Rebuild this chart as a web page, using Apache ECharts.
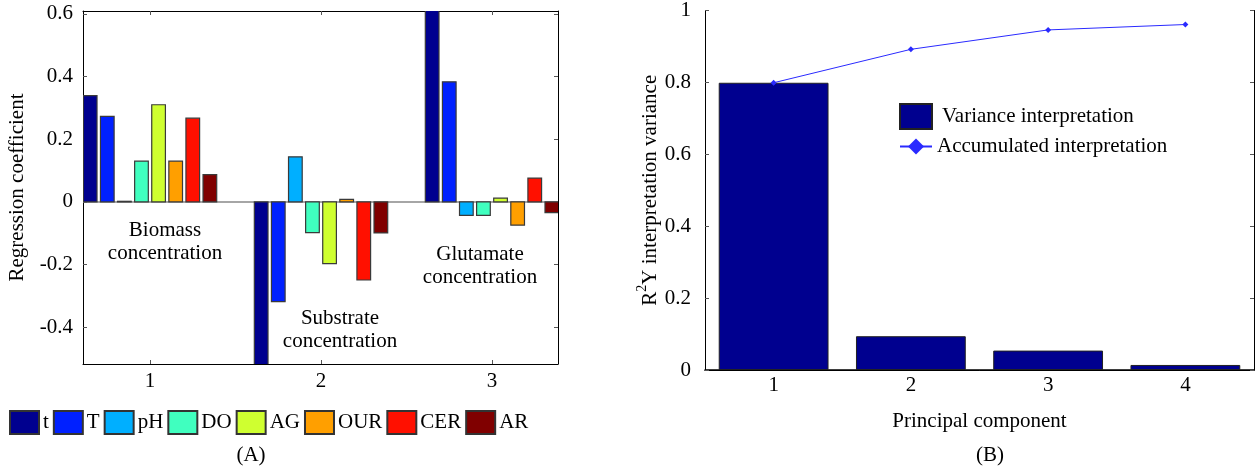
<!DOCTYPE html>
<html>
<head>
<meta charset="utf-8">
<script src="https://cdn.jsdelivr.net/npm/echarts@6/dist/echarts.min.js"></script>
<style>
  html, body { margin: 0; padding: 0; background: #fff; }
  #chart { width: 1259px; height: 470px; }
</style>
</head>
<body>
<div id="chart"></div>
<script>
// (A) regression coefficients, one array per output, 8 input variables each
const variables = ['t', 'T', 'pH', 'DO', 'AG', 'OUR', 'CER', 'AR']
const groups = [1, 2, 3]
const biomass = [0.339, 0.273, 0.002, 0.130, 0.310, 0.130, 0.267, 0.087]
const substrate = [-0.56, -0.318, 0.144, -0.098, -0.197, 0.008, -0.249, -0.099]
const glutamate = [0.65, 0.383, -0.043, -0.043, 0.012, -0.074, 0.076, -0.034]
const coefTicks = [-0.4, -0.2, 0, 0.2, 0.4, 0.6]

// (B) PLS components
const components = ['1', '2', '3', '4']
const variance = [0.799, 0.094, 0.054, 0.014]
const accumulated = [0.799, 0.892, 0.946, 0.961]

const colors = ['#00008f', '#0020ff', '#00afff', '#40ffbf', '#cfff30', '#ff9f00', '#ff1000', '#800000']
const font = 'Liberation Serif, Times New Roman, serif'
const fs = 21

const myChart = echarts.init(document.getElementById('chart'))

const barSeries = variables.map(function (name, i) {
  const vals = [biomass[i], substrate[i], glutamate[i]]
  return {
    name: name,
    type: 'custom',
    xAxisIndex: 0,
    yAxisIndex: 0,
    clip: true,
    itemStyle: { color: colors[i], borderColor: '#333', borderWidth: 1 },
    data: groups.map(function (g, k) {
      return [g + (i - 3.5) * 0.1, vals[k]]
    }),
    renderItem: function (params, api) {
      const x = api.value(0)
      const y = api.value(1)
      const p0 = api.coord([x - 0.04, 0])
      const p1 = api.coord([x + 0.04, y])
      return {
        type: 'rect',
        shape: {
          x: p0[0],
          y: Math.min(p0[1], p1[1]),
          width: p1[0] - p0[0],
          height: Math.abs(p1[1] - p0[1])
        },
        style: { fill: colors[i], stroke: '#3a3a3a', lineWidth: 1.2 }
      }
    },
    markLine: i === 0 ? {
      silent: true,
      symbol: 'none',
      z: 1,
      label: { show: false },
      lineStyle: { color: '#888', width: 1.5, type: 'solid' },
      data: [{ yAxis: 0 }]
    } : undefined
  }
})

const axisText = { color: '#000', fontFamily: font, fontSize: fs }
const tickStyle = { color: '#555' }

const option = {
  animation: false,
  textStyle: { fontFamily: font },
  grid: [
    { left: 83, top: 11, width: 475, height: 353 },
    { left: 705, top: 10, width: 549, height: 360 }
  ],
  xAxis: [
    {
      gridIndex: 0, type: 'value', min: 0.608, max: 3.386,
      splitLine: { show: false },
      axisLine: { onZero: false, lineStyle: { color: '#000', width: 1 } },
      axisTick: { inside: true, length: 4, customValues: groups, lineStyle: tickStyle },
      axisLabel: Object.assign({ customValues: groups, margin: 7 }, axisText)
    },
    {
      gridIndex: 0, type: 'value', position: 'top', min: 0.608, max: 3.386,
      splitLine: { show: false },
      axisLine: { onZero: false, lineStyle: { color: '#000', width: 1 } },
      axisTick: { inside: true, length: 4, customValues: groups, lineStyle: tickStyle },
      axisLabel: { show: false }
    },
    {
      gridIndex: 1, type: 'category', data: components,
      name: 'Principal component', nameLocation: 'middle', nameGap: 41,
      nameTextStyle: axisText,
      axisLine: { lineStyle: { color: '#000', width: 1.5 } },
      axisTick: { inside: true, alignWithLabel: true, length: 4, lineStyle: tickStyle },
      axisLabel: Object.assign({ margin: 5 }, axisText)
    },
    {
      gridIndex: 1, type: 'category', data: components, position: 'top',
      axisLine: { lineStyle: { color: '#000', width: 1 } },
      axisTick: { inside: true, alignWithLabel: true, length: 4, lineStyle: tickStyle },
      axisLabel: { show: false }
    }
  ],
  yAxis: [
    {
      gridIndex: 0, type: 'value', min: -0.517, max: 0.609,
      name: 'Regression coefficient', nameLocation: 'middle', nameGap: 55,
      nameTextStyle: axisText,
      splitLine: { show: false },
      axisLine: { show: true, onZero: false, lineStyle: { color: '#000', width: 1 } },
      axisTick: { show: true, inside: true, length: 4, customValues: coefTicks, lineStyle: tickStyle },
      axisLabel: Object.assign({ customValues: coefTicks, margin: 10 }, axisText)
    },
    {
      gridIndex: 0, type: 'value', position: 'right', min: -0.517, max: 0.609,
      splitLine: { show: false },
      axisLine: { show: true, onZero: false, lineStyle: { color: '#000', width: 1 } },
      axisTick: { show: true, inside: true, length: 4, customValues: coefTicks, lineStyle: tickStyle },
      axisLabel: { show: false }
    },
    {
      gridIndex: 1, type: 'value', min: 0, max: 1, interval: 0.2,
      name: '{t|R}{s|2}{t|Y interpretation variance}', nameLocation: 'middle', nameGap: 44,
      nameTextStyle: {
        rich: {
          t: { color: '#000', fontFamily: font, fontSize: fs, lineHeight: 26, verticalAlign: 'bottom' },
          s: { color: '#000', fontFamily: font, fontSize: 14, lineHeight: 14, verticalAlign: 'top' }
        }
      },
      splitLine: { show: false },
      axisLine: { show: true, lineStyle: { color: '#000', width: 1 } },
      axisTick: { show: true, inside: true, length: 4, lineStyle: tickStyle },
      axisLabel: Object.assign({ margin: 14 }, axisText)
    },
    {
      gridIndex: 1, type: 'value', position: 'right', min: 0, max: 1, interval: 0.2,
      splitLine: { show: false },
      axisLine: { show: true, lineStyle: { color: '#000', width: 1 } },
      axisTick: { show: true, inside: true, length: 4, lineStyle: tickStyle },
      axisLabel: { show: false }
    }
  ],
  legend: [
    {
      data: variables, left: 9, top: 410, padding: 0, itemWidth: 29, itemHeight: 23, itemGap: 4,
      icon: 'rect', textStyle: { color: '#000', fontFamily: font, fontSize: fs, padding: [0, 0, 0, -1] },
      selectedMode: false
    },
    {
      data: ['Variance interpretation'], left: 899, top: 103, padding: 0, itemWidth: 32, itemHeight: 25,
      icon: 'rect', textStyle: { color: '#000', fontFamily: font, fontSize: fs, padding: [0, 0, 0, 5] },
      selectedMode: false
    },
    {
      data: ['Accumulated interpretation'], left: 899, top: 136, padding: 0, itemWidth: 32, itemHeight: 20,
      textStyle: { color: '#000', fontFamily: font, fontSize: fs },
      selectedMode: false
    }
  ],
  graphic: [
    { type: 'text', x: 165, y: 242, style: { text: 'Biomass\nconcentration', font: fs + 'px ' + font, fill: '#000', align: 'center', verticalAlign: 'middle', lineHeight: 23 } },
    { type: 'text', x: 340, y: 330, style: { text: 'Substrate\nconcentration', font: fs + 'px ' + font, fill: '#000', align: 'center', verticalAlign: 'middle', lineHeight: 23 } },
    { type: 'text', x: 480, y: 266, style: { text: 'Glutamate\nconcentration', font: fs + 'px ' + font, fill: '#000', align: 'center', verticalAlign: 'middle', lineHeight: 23 } },
    { type: 'text', x: 251, y: 455, style: { text: '(A)', font: fs + 'px ' + font, fill: '#000', align: 'center', verticalAlign: 'middle' } },
    { type: 'text', x: 990, y: 455, style: { text: '(B)', font: fs + 'px ' + font, fill: '#000', align: 'center', verticalAlign: 'middle' } }
  ],
  series: barSeries.concat([
    {
      name: 'Variance interpretation',
      type: 'bar',
      xAxisIndex: 2,
      yAxisIndex: 2,
      barWidth: '80%',
      itemStyle: { color: '#00008f', borderColor: '#222', borderWidth: 1 },
      data: variance
    },
    {
      name: 'Accumulated interpretation',
      type: 'line',
      xAxisIndex: 2,
      yAxisIndex: 2,
      symbol: 'diamond',
      symbolSize: 6,
      itemStyle: { color: '#2a2aff' },
      lineStyle: { color: '#2a2aff', width: 1 },
      data: accumulated
    }
  ])
}

myChart.setOption(option)

window.addEventListener('resize', () => {
  myChart.resize()
})
</script>
</body>
</html>
